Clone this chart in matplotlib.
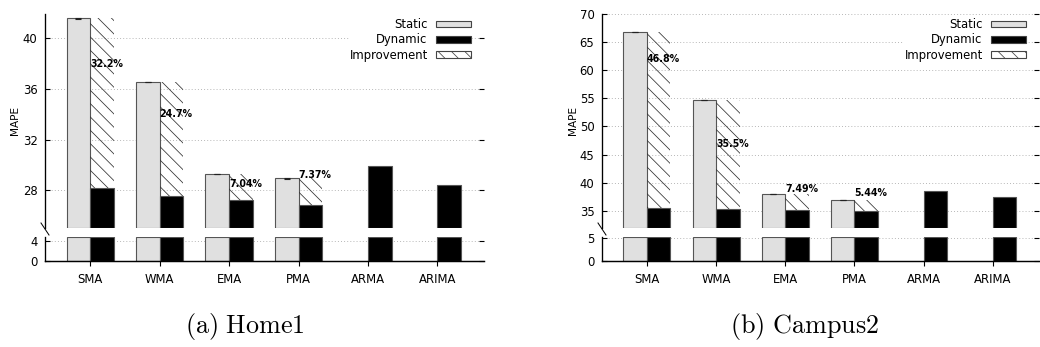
import numpy as np
import matplotlib.pyplot as plt
from matplotlib.patches import Patch
from matplotlib.lines import Line2D

plt.rcParams["mathtext.fontset"] = "cm"
plt.rcParams["hatch.linewidth"] = 0.7

methods = ["SMA", "WMA", "EMA", "PMA", "ARMA", "ARIMA"]

# Home1
home_static = [41.58, 36.55, 29.27, 28.93, np.nan, np.nan]
home_dynamic = [28.2, 27.53, 27.22, 26.82, 29.92, 28.42]
home_improve = ["32.2%", "24.7%", "7.04%", "7.37%"]
home_label_y = [38.0, 34.0, 28.52, 29.23]

# Campus2
campus_static = [66.75, 54.68, 38.02, 36.96, np.nan, np.nan]
campus_dynamic = [35.5, 35.3, 35.18, 34.95, 38.56, 37.37]
campus_improve = ["46.8%", "35.5%", "7.49%", "5.44%"]
campus_label_y = [62.0, 46.9, 38.9, 38.1]

W, H = 1040, 347
fig = plt.figure(figsize=(13, 4.3375), dpi=80)

STATIC_C = "#e0e0e0"
EDGE_C = "#555555"
FS = 10.5
bw = 0.34
HATCH = "\\\\"


def px_rect(x0, x1, ytop, ybot):
    return [x0 / W, 1 - ybot / H, (x1 - x0) / W, (ybot - ytop) / H]


def panel(x0, x1, static, dynamic, improve, label_y, up_lim, up_ticks,
          lo_lim, lo_ticks, caption, cap_x, ylab_x):
    ax_up = fig.add_axes(px_rect(x0, x1, 14, 228))
    ax_lo = fig.add_axes(px_rect(x0, x1, 237, 261))
    x = np.arange(len(methods))
    static = np.array(static)
    dynamic = np.array(dynamic)
    has_static = ~np.isnan(static)

    for ax, (lo, hi) in ((ax_up, up_lim), (ax_lo, lo_lim)):
        ax.set_xlim(-0.65, 5.67)
        ax.set_ylim(lo, hi)
        ax.set_axisbelow(True)
        ax.grid(axis="y", color="#aaaaaa", linestyle=(0, (1, 2.5)), lw=0.8)
        for s in ("top", "right"):
            ax.spines[s].set_visible(False)
        ax.spines["left"].set_linewidth(1.2)
        ax.tick_params(axis="y", direction="in", length=4.5, width=1,
                       right=True, labelsize=FS, pad=6.8)
        # bars are cut off at the limits of each segment
        s_top = np.minimum(static[has_static], hi)
        d_top = np.minimum(dynamic, hi)
        ax.bar(x[has_static] - bw / 2, s_top - lo, bottom=lo, width=bw,
               color=STATIC_C, edgecolor=EDGE_C, lw=1)
        ax.bar(x + bw / 2, d_top - lo, bottom=lo, width=bw,
               color="black", edgecolor=EDGE_C, lw=1)

    ax_up.spines["bottom"].set_visible(False)
    ax_up.set_xticks([])
    ax_up.set_yticks(up_ticks)
    ax_lo.set_yticks(lo_ticks)
    ax_lo.spines["bottom"].set_linewidth(1.3)
    ax_lo.set_xticks(x)
    ax_lo.set_xticklabels(methods)
    ax_lo.tick_params(axis="x", direction="out", length=4.5, width=1,
                      labelsize=FS, pad=6)

    # improvement stacked on top of dynamic
    xs = x[has_static]
    ax_up.bar(xs + bw / 2, static[has_static] - dynamic[has_static],
              bottom=dynamic[has_static], width=bw, fill=False, hatch=HATCH,
              edgecolor="#333333", lw=0)
    ax_up.errorbar(xs - bw / 2, static[has_static], yerr=0.02, fmt="none",
                   ecolor="#222222", capsize=2.5, elinewidth=1, capthick=1)
    for xi, txt, ty in zip(xs, improve, label_y):
        ax_up.text(xi, ty, txt, ha="left", va="center", fontsize=8.6,
                   fontweight="bold")

    handles = [Patch(facecolor=STATIC_C, edgecolor="#444444"),
               Patch(facecolor="black", edgecolor="#444444"),
               Patch(facecolor="white", edgecolor="#444444", hatch=HATCH)]
    ax_up.legend(handles, ["Static", "Dynamic", "Improvement"],
                 loc="upper right", bbox_to_anchor=(0.97, 0.981),
                 markerfirst=False, fontsize=FS, frameon=True,
                 framealpha=1, edgecolor="none", fancybox=False,
                 borderpad=0, borderaxespad=0, handlelength=3.0,
                 handleheight=0.5, handletextpad=0.7, labelspacing=0.2)

    # break mark across the gap in the left spine
    fig.add_artist(Line2D([(x0 - 4) / W, (x0 + 4) / W],
                          [1 - 223 / H, 1 - 235 / H], color="black", lw=0.9))

    fig.text(ylab_x / W, 1 - 120 / H, "MAPE", rotation=90, ha="center",
             va="center", fontsize=9.5)
    fig.text(cap_x / W, 1 - 327 / H, caption, ha="center", va="center",
             fontsize=23.5)


panel(45, 484, home_static, home_dynamic, home_improve, home_label_y,
      (25.02, 41.92), [28, 32, 36, 40], (0, 4.87), [0, 4],
      r"$\mathrm{(a)\ Home1}$", 245, 15)
panel(602, 1039, campus_static, campus_dynamic, campus_improve, campus_label_y,
      (31.93, 70), [35, 40, 45, 50, 55, 60, 65, 70], (0, 5.14), [0, 5],
      r"$\mathrm{(b)\ Campus2}$", 804, 573)

fig.savefig("out.png", dpi=80)
